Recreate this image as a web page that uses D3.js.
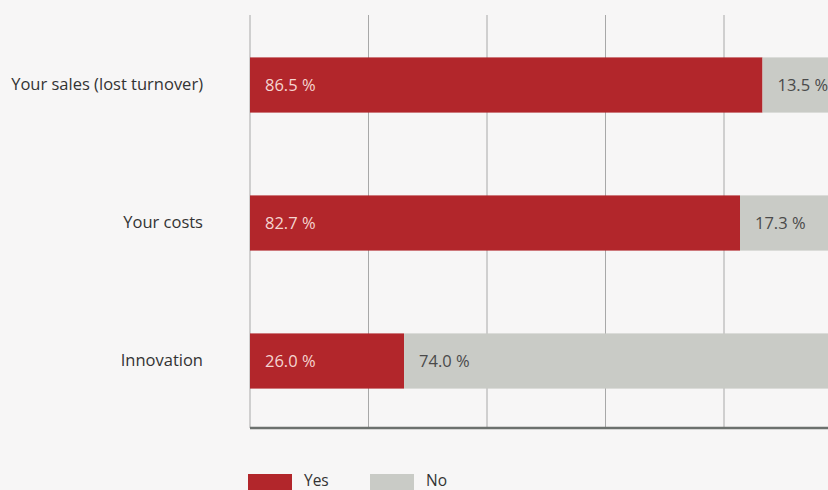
<!DOCTYPE html>
<html>
<head>
<meta charset="utf-8">
<script src="https://cdn.jsdelivr.net/npm/d3@7"></script>
<style>
  html, body { margin: 0; padding: 0; background: #f7f6f6; }
  svg { display: block; }
  text { font-family: "Open Sans", "Noto Sans", sans-serif; }
</style>
</head>
<body>
<svg id="chart" width="828" height="490"></svg>
<script>
// Share of respondents answering Yes / No per impact area
const categories = ["Your sales (lost turnover)", "Your costs", "Innovation"];
const yesValues = [86.5, 82.7, 26.0];
const noValues = [13.5, 17.3, 74.0];
const seriesNames = ["Yes", "No"];
const gridTicks = [0, 20, 40, 60, 80, 100];

const colors = { Yes: "#b2262b", No: "#c9cbc6" };

const svg = d3.select("#chart");
const W = 828, H = 490;

const x = d3.scaleLinear().domain([0, 100]).range([250, 842.5]);
const y = d3.scaleBand().domain(categories).range([16, 430]).paddingInner(0.6).paddingOuter(0.3);

// vertical gridlines
svg.append("g")
  .selectAll("line")
  .data(gridTicks)
  .join("line")
  .attr("x1", d => x(d)).attr("x2", d => x(d))
  .attr("y1", 15).attr("y2", 428)
  .attr("stroke", "#a8a8a8")
  .attr("stroke-width", 1);

const rows = categories.map((c, i) => ({ cat: c, yes: yesValues[i], no: noValues[i] }));

const g = svg.append("g");

// Yes segments
g.selectAll("rect.yes")
  .data(rows)
  .join("rect")
  .attr("class", "yes")
  .attr("x", x(0))
  .attr("y", d => y(d.cat))
  .attr("width", d => x(d.yes) - x(0))
  .attr("height", y.bandwidth())
  .attr("fill", colors.Yes);

// No segments
g.selectAll("rect.no")
  .data(rows)
  .join("rect")
  .attr("class", "no")
  .attr("x", d => x(d.yes))
  .attr("y", d => y(d.cat))
  .attr("width", d => x(d.yes + d.no) - x(d.yes))
  .attr("height", y.bandwidth())
  .attr("fill", colors.No);

const fmt = v => v.toFixed(1) + " %";

// value labels
g.selectAll("text.yesLbl")
  .data(rows)
  .join("text")
  .attr("x", x(0) + 15)
  .attr("y", d => y(d.cat) + y.bandwidth() / 2)
  .attr("dy", "0.36em")
  .attr("font-size", 16.5)
  .attr("fill", "#f5d5d1")
  .text(d => fmt(d.yes));

g.selectAll("text.noLbl")
  .data(rows)
  .join("text")
  .attr("x", d => x(d.yes) + 15)
  .attr("y", d => y(d.cat) + y.bandwidth() / 2)
  .attr("dy", "0.36em")
  .attr("font-size", 16.5)
  .attr("fill", "#4a4a4a")
  .text(d => fmt(d.no));

// category labels
const yAxis = d3.axisLeft(y).tickSize(0).tickPadding(0);
const ya = svg.append("g").attr("transform", "translate(203,0)").call(yAxis);
ya.select(".domain").remove();
ya.selectAll("text")
  .attr("font-size", 16.5)
  .attr("fill", "#333")
  .style("font-family", "'Open Sans', 'Noto Sans', sans-serif");

// baseline
svg.append("line")
  .attr("x1", x(0)).attr("x2", W)
  .attr("y1", 428).attr("y2", 428)
  .attr("stroke", "#6c716e")
  .attr("stroke-width", 2.5);

// legend
const legend = svg.append("g");
const legX = [248, 370];
seriesNames.forEach((s, i) => {
  legend.append("rect")
    .attr("x", legX[i]).attr("y", 474)
    .attr("width", 44).attr("height", 20)
    .attr("fill", colors[s]);
  legend.append("text")
    .attr("x", legX[i] + 56).attr("y", 486)
    .attr("font-size", 15.5)
    .attr("fill", "#333")
    .text(s);
});
</script>
</body>
</html>
